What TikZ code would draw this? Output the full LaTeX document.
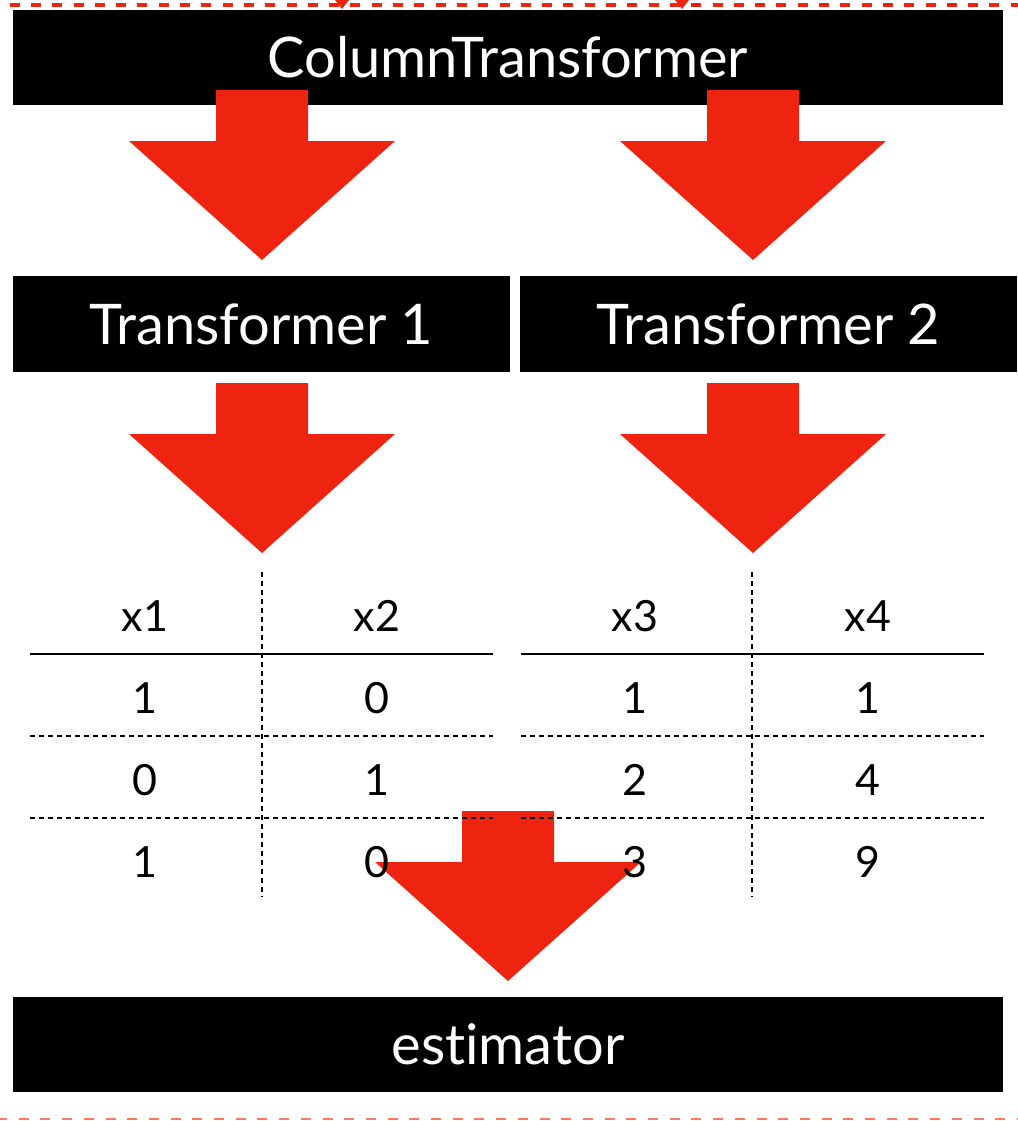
\documentclass[tikz,border=0pt]{standalone}
\usepackage{fontspec}
\setmainfont{Lato}[Ligatures=NoCommon]
\definecolor{arrowred}{RGB}{239,36,16}
\definecolor{edgered}{RGB}{244,124,100}
\tikzset{
    blackbox/.style={fill=black, text=white, inner sep=0pt, minimum height=47.5pt,
      text height=20pt, text depth=0pt, font=\fontsize{28}{34}\selectfont},
    cell/.style={anchor=base, inner sep=0pt, font=\fontsize{21.5}{26}\selectfont},
    bigarrow/.style={fill=arrowred},
    rowline/.style={line width=1pt, dash pattern=on 2.5pt off 2pt},
    colline/.style={line width=1pt, dash pattern=on 2.5pt off 2pt}
}
\begin{document}
\begin{tikzpicture}[x=0.5pt, y=-0.5pt]
    \useasboundingbox (0,0) rectangle (1018,1121);
    \draw[arrowred, line width=2pt, dash pattern=on 5pt off 5.65pt, dash phase=5.85pt] (0,5) -- (1018,5);
    \fill[arrowred] (335,0) -- (349,0) -- (342,9) -- cycle;
    \fill[arrowred] (675,0) -- (689,0) -- (682,9) -- cycle;
    \draw[edgered, line width=1pt, dash pattern=on 5pt off 5.85pt, dash phase=1.5pt] (0,1119) -- (1018,1119);
    \node[blackbox, minimum width=495pt] (ct) at (508,57.5) {ColumnTransformer};
    \node[blackbox, minimum width=248.5pt, minimum height=48pt] (tf1) at (261.5,324) {Transformer 1};
    \node[blackbox, minimum width=248.5pt, minimum height=48pt] (tf2) at (768.5,324) {Transformer 2};
    \node[blackbox, minimum width=495pt] (est) at (508,1044.5) {estimator};
    \foreach \x/\y in {262/90, 753/90, 262/383, 753/383, 508/811}
      \fill[bigarrow] (\x-46,\y) -- (\x+46,\y) -- (\x+46,\y+51) -- (\x+133,\y+51)
        -- (\x,\y+170) -- (\x-133,\y+51) -- (\x-46,\y+51) -- cycle;
    \foreach \x/\h/\a/\b/\c [count=\i] in {145/x1/1/0/1, 377/x2/0/1/0, 635/x3/1/2/3, 868/x4/1/4/9} {
      \node[cell] (h\i) at (\x,631) {\h};
      \node[cell] (a\i) at (\x,713) {\a};
      \node[cell] (b\i) at (\x,795) {\b};
      \node[cell] (c\i) at (\x,877) {\c};
    }
    \foreach \l/\r in {30/493, 521/984} {
      \draw[line width=1pt] (\l,654) -- (\r,654);
      \draw[rowline] (\l,736) -- (\r,736);
      \draw[rowline] (\l,818) -- (\r,818);
    }
    \draw[colline] (262,572) -- (262,897);
    \draw[colline] (752,572) -- (752,897);
\end{tikzpicture}
\end{document}
